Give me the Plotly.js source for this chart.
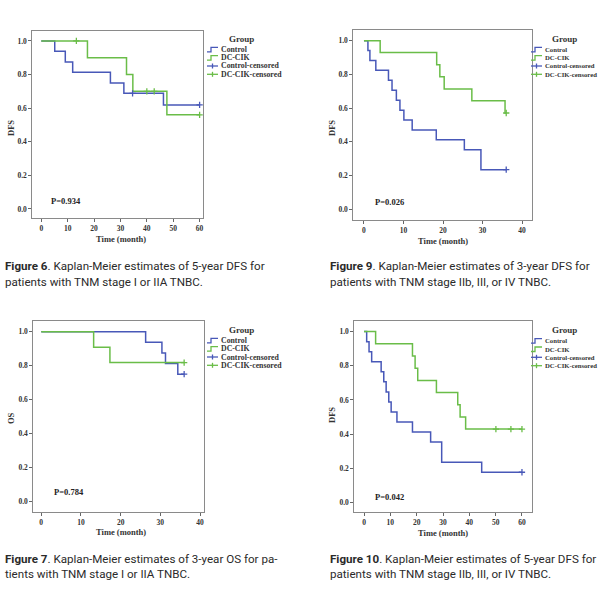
<!DOCTYPE html>
<html><head><meta charset="utf-8">
<script src="https://cdn.plot.ly/plotly-3.0.1.min.js"></script>
<style>html,body{margin:0;padding:0;background:#fff}#c{width:600px;height:600px}</style>
</head><body><div id="c"></div>
<script>
// ---- Figure 6: 5-year DFS, stage I / IIA ----
const f6_ctrl_t = [0, 5.1, 9.1, 11.9, 26.2, 31.3, 46.3, 60];
const f6_ctrl_s = [1, 0.938, 0.875, 0.813, 0.75, 0.688, 0.619, 0.619];
const f6_ctrl_cens_t = [34.6, 60];
const f6_ctrl_cens_s = [0.688, 0.619];
const f6_dc_t = [0, 17.5, 32.3, 34.7, 47.6, 60];
const f6_dc_s = [1, 0.9, 0.8, 0.7, 0.56, 0.56];
const f6_dc_cens_t = [13.3, 40, 42.8, 60];
const f6_dc_cens_s = [1, 0.7, 0.7, 0.56];
// ---- Figure 9: 3-year DFS, stage IIb/III/IV ----
const f9_ctrl_t = [0, 1.0, 1.5, 3.0, 6.2, 7.1, 8.2, 9.1, 10.1, 12.2, 18.3, 25.4, 29.6, 36];
const f9_ctrl_s = [1, 0.941, 0.882, 0.824, 0.765, 0.706, 0.647, 0.588, 0.529, 0.471, 0.412, 0.353, 0.235, 0.235];
const f9_ctrl_cens_t = [36];
const f9_ctrl_cens_s = [0.235];
const f9_dc_t = [0, 4.1, 18.4, 19.2, 20.3, 27.3, 35.7, 36];
const f9_dc_s = [1, 0.929, 0.857, 0.786, 0.714, 0.643, 0.571, 0.571];
const f9_dc_cens_t = [36];
const f9_dc_cens_s = [0.571];
// ---- Figure 7: 3-year OS, stage I / IIA ----
const f7_ctrl_t = [0, 26.3, 30.4, 31.3, 34.4, 36];
const f7_ctrl_s = [1, 0.938, 0.875, 0.813, 0.75, 0.75];
const f7_ctrl_cens_t = [36];
const f7_ctrl_cens_s = [0.75];
const f7_dc_t = [0, 13.2, 17.3, 36];
const f7_dc_s = [1, 0.909, 0.818, 0.818];
const f7_dc_cens_t = [36];
const f7_dc_cens_s = [0.818];
// ---- Figure 10: 5-year DFS, stage IIb/III/IV ----
const f10_ctrl_t = [0, 1.0, 1.9, 2.9, 6.5, 7.5, 8.4, 9.4, 10.3, 12.5, 18.4, 25.3, 29.5, 44.7, 60];
const f10_ctrl_s = [1, 0.941, 0.882, 0.824, 0.765, 0.706, 0.647, 0.588, 0.529, 0.471, 0.412, 0.353, 0.235, 0.176, 0.176];
const f10_ctrl_cens_t = [60];
const f10_ctrl_cens_s = [0.176];
const f10_dc_t = [0, 4.4, 18.4, 19.4, 20.4, 27.5, 35.6, 36.5, 38.6, 60];
const f10_dc_s = [1, 0.929, 0.857, 0.786, 0.714, 0.643, 0.571, 0.5, 0.429, 0.429];
const f10_dc_cens_t = [50.1, 55.8, 60];
const f10_dc_cens_s = [0.429, 0.429, 0.429];

const groupNames = ['Control', 'DC-CIK', 'Control-censored', 'DC-CIK-censored'];
const pValues = ['P=0.934', 'P=0.026', 'P=0.784', 'P=0.042'];
const yTitles = ['DFS', 'DFS', 'OS', 'DFS'];
const xTitle = 'Time (month)';
const yTicks = [0, 0.2, 0.4, 0.6, 0.8, 1.0];
const xTicks60 = [0, 10, 20, 30, 40, 50, 60];
const xTicks40 = [0, 10, 20, 30, 40];
const captions = [
  ['<b>Figure 6</b>. Kaplan-Meier estimates of 5-year DFS for', 'patients with TNM stage I or IIA TNBC.'],
  ['<b>Figure 9</b>. Kaplan-Meier estimates of 3-year DFS for', 'patients with TNM stage IIb, III, or IV TNBC.'],
  ['<b>Figure 7</b>. Kaplan-Meier estimates of 3-year OS for pa-', 'tients with TNM stage I or IIA TNBC.'],
  ['<b>Figure 10</b>. Kaplan-Meier estimates of 5-year DFS for', 'patients with TNM stage IIb, III, or IV TNBC.']
];

const BLUE = '#4858b8', GREEN = '#6abd48';
const SERIF = 'Liberation Serif';
const W = 600, H = 600;
const px = x => x / W, py = y => 1 - y / H;

const panels = [
  {ct:f6_ctrl_t, cs:f6_ctrl_s, cct:f6_ctrl_cens_t, ccs:f6_ctrl_cens_s, dt:f6_dc_t, ds:f6_dc_s, dct:f6_dc_cens_t, dcs:f6_dc_cens_s,
   box:[32.3,203.3,30.7,218], xr:[-3.4,61.4], yr:[-0.054,1.061], xt:xTicks60,
   leg:{gx:241, gy:39, sx:207, fs:7.8, ys:[49.3,57.7,66,74.3]}, p:[49,200.7], yt:[11,128], xtl:[121,239]},
  {ct:f9_ctrl_t, cs:f9_ctrl_s, cct:f9_ctrl_cens_t, ccs:f9_ctrl_cens_s, dt:f9_dc_t, ds:f9_dc_s, dct:f9_dc_cens_t, dcs:f9_dc_cens_s,
   box:[353.3,532.3,30,220], xr:[-2.7,42.6], yr:[-0.063,1.063], xt:xTicks40,
   leg:{gx:564, gy:39, sx:531, fs:6.7, ys:[49.3,57.7,66,74.3]}, p:[373,202.3], yt:[332,128], xtl:[443,241]},
  {ct:f7_ctrl_t, cs:f7_ctrl_s, cct:f7_ctrl_cens_t, ccs:f7_ctrl_cens_s, dt:f7_dc_t, ds:f7_dc_s, dct:f7_dc_cens_t, dcs:f7_dc_cens_s,
   box:[33.3,204,320.7,511.7], xr:[-2.0,41.0], yr:[-0.061,1.065], xt:xTicks40,
   leg:{gx:241, gy:329.7, sx:207, fs:7.8, ys:[340.3,348.7,357,365.3]}, p:[51.7,492], yt:[11,418], xtl:[121,531.7]},
  {ct:f10_ctrl_t, cs:f10_ctrl_s, cct:f10_ctrl_cens_t, ccs:f10_ctrl_cens_s, dt:f10_dc_t, ds:f10_dc_s, dct:f10_dc_cens_t, dcs:f10_dc_cens_s,
   box:[354.3,531.7,320.7,511.7], xr:[-3.7,63.7], yr:[-0.055,1.064], xt:xTicks60,
   leg:{gx:564, gy:330, sx:531, fs:6.7, ys:[340.7,349,357.3,365.7]}, p:[373,496.7], yt:[332,415], xtl:[443,533]}
];

const data = [], annotations = [], shapes = [];
const layout = {width:W, height:H, margin:{l:0,r:0,t:0,b:0}, paper_bgcolor:'#fff', plot_bgcolor:'#fff', showlegend:false};

panels.forEach((p, i) => {
  const n = i === 0 ? '' : String(i + 1);
  const xa = 'x' + n, ya = 'y' + n;
  const axCommon = {showline:true, mirror:true, linecolor:'#8a8a8a', linewidth:1, showgrid:false, zeroline:false,
    ticks:'outside', ticklen:3, tickcolor:'#666', tickwidth:1,
    tickfont:{family:SERIF, size:7.5, color:'#333', weight:'bold'}};
  layout['xaxis' + n] = Object.assign({}, axCommon, {domain:[px(p.box[0]), px(p.box[1])], range:p.xr, anchor:ya,
    tickmode:'array', tickvals:p.xt, ticktext:p.xt.map(String)});
  layout['yaxis' + n] = Object.assign({}, axCommon, {domain:[py(p.box[3]), py(p.box[2])], range:p.yr, anchor:xa,
    tickmode:'array', tickvals:yTicks, ticktext:yTicks.map(v => v.toFixed(1))});

  data.push({x:p.ct, y:p.cs, xaxis:xa, yaxis:ya, mode:'lines', line:{shape:'hv', color:BLUE, width:1.5}, name:groupNames[0]});
  data.push({x:p.dt, y:p.ds, xaxis:xa, yaxis:ya, mode:'lines', line:{shape:'hv', color:GREEN, width:1.5}, name:groupNames[1]});
  data.push({x:p.cct, y:p.ccs, xaxis:xa, yaxis:ya, mode:'markers', name:groupNames[2],
    marker:{symbol:'cross-thin', size:4.5, color:BLUE, line:{color:BLUE, width:1.3}}});
  data.push({x:p.dct, y:p.dcs, xaxis:xa, yaxis:ya, mode:'markers', name:groupNames[3],
    marker:{symbol:'cross-thin', size:4.5, color:GREEN, line:{color:GREEN, width:1.3}}});

  // P value
  annotations.push({xref:'paper', yref:'paper', x:px(p.p[0]), y:py(p.p[1]), xanchor:'left', yanchor:'middle', showarrow:false,
    text:'<b>' + pValues[i] + '</b>', font:{family:SERIF, size:8.5, color:'#222'}});
  // axis titles
  annotations.push({xref:'paper', yref:'paper', x:px(p.yt[0]), y:py(p.yt[1]), xanchor:'center', yanchor:'middle', showarrow:false,
    textangle:-90, text:'<b>' + yTitles[i] + '</b>', font:{family:SERIF, size:8.5, color:'#333'}});
  annotations.push({xref:'paper', yref:'paper', x:px(p.xtl[0]), y:py(p.xtl[1]), xanchor:'center', yanchor:'middle', showarrow:false,
    text:'<b>' + xTitle + '</b>', font:{family:SERIF, size:8.5, color:'#333'}});

  // legend
  const L = p.leg;
  annotations.push({xref:'paper', yref:'paper', x:px(L.gx), y:py(L.gy), xanchor:'center', yanchor:'middle', showarrow:false,
    text:'<b>Group</b>', font:{family:SERIF, size:9, color:'#333'}});
  const cols = [BLUE, GREEN, BLUE, GREEN];
  L.ys.forEach((yy, k) => {
    const c = cols[k];
    if (k < 2) {
      const path = `M ${px(L.sx)} ${py(yy+2.5)} L ${px(L.sx+4)} ${py(yy+2.5)} L ${px(L.sx+4)} ${py(yy-2)} L ${px(L.sx+11)} ${py(yy-2)}`;
      shapes.push({type:'path', xref:'paper', yref:'paper', path:path, line:{color:c, width:1.3}});
    } else {
      shapes.push({type:'line', xref:'paper', yref:'paper', x0:px(L.sx), x1:px(L.sx+11), y0:py(yy), y1:py(yy), line:{color:c, width:1.3}});
      shapes.push({type:'line', xref:'paper', yref:'paper', x0:px(L.sx+5.5), x1:px(L.sx+5.5), y0:py(yy-2.5), y1:py(yy+2.5), line:{color:c, width:1.3}});
    }
    annotations.push({xref:'paper', yref:'paper', x:px(L.sx+11.5), y:py(yy), xanchor:'left', yanchor:'middle', showarrow:false,
      text:'<b>' + groupNames[k] + '</b>', font:{family:SERIF, size:L.fs, color:'#333'}});
  });
});

// captions
const capPos = [[3,266],[328,266],[3,558.5],[328,558.5]];
captions.forEach((lines, i) => {
  lines.forEach((t, j) => {
    annotations.push({xref:'paper', yref:'paper', x:px(capPos[i][0]), y:py(capPos[i][1] + j*15.8), xanchor:'left', yanchor:'middle',
      showarrow:false, text:t, font:{family:'Roboto', size:11.6, color:'#2a2a2a'}});
  });
});

layout.annotations = annotations;
layout.shapes = shapes;
Plotly.newPlot('c', data, layout, {staticPlot:true, displayModeBar:false});
</script>
</body></html>
